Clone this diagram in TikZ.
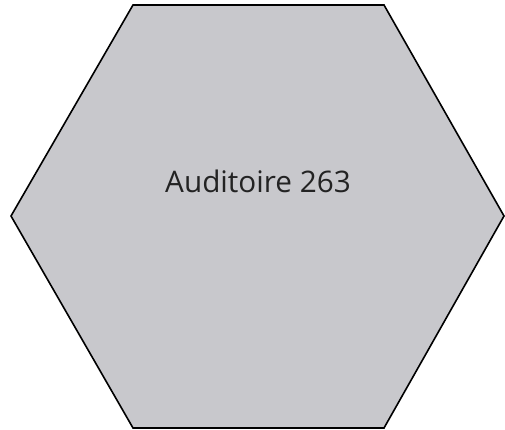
\documentclass[tikz,border=0pt]{standalone}
\usepackage{fontspec}
\setmainfont{Open Sans}
\definecolor{hexfill}{RGB}{200,200,204}
\definecolor{txt}{RGB}{35,35,35}
\begin{document}
\begin{tikzpicture}[x=1pt,y=-1pt]
\useasboundingbox (0,0) rectangle (505,430);
\coordinate (p1) at (133,5);
\coordinate (p2) at (384,5);
\coordinate (p3) at (504,216);
\coordinate (p4) at (384,428);
\coordinate (p5) at (133,428);
\coordinate (p6) at (11,216);
\draw[line width=1.6pt, fill=hexfill, line join=miter] (p1) -- (p2) -- (p3) -- (p4) -- (p5) -- (p6) -- cycle;
\node[text=txt, font=\fontsize{29.7}{34}\selectfont, inner sep=0pt] (lbl) at (258,181) {Auditoire 263};
\end{tikzpicture}
\end{document}
